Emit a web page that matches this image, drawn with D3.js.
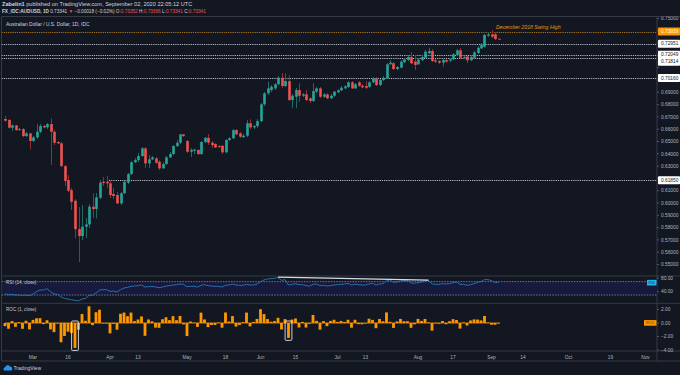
<!DOCTYPE html>
<html><head><meta charset="utf-8">
<script src="https://cdn.jsdelivr.net/npm/d3@7"></script>
<style>html,body{margin:0;padding:0;background:#131722;}svg{display:block;}</style>
</head><body>
<svg id="c" width="680" height="375"></svg>
<script>
// ---------- data ----------
const firstDay = "2020-02-19";
const lastAxisDay = "2020-11-07";
const open = [0.6683,0.6675,0.6612,0.6631,0.6593,0.6601,0.6544,0.6566,0.6504,0.6534,
0.6579,0.6626,0.6615,0.6642,0.6579,0.6496,0.6485,0.6300,0.6187,0.6105,
0.6018,0.5788,0.5731,0.5807,0.5826,0.5970,0.5951,0.6043,0.6173,0.6173,
0.6160,0.6073,0.6065,0.5997,0.6079,0.6165,0.6235,0.6331,0.6349,0.6382,
0.6444,0.6322,0.6355,0.6363,0.6335,0.6282,0.6317,0.6371,0.6398,0.6463,
0.6490,0.6558,0.6504,0.6417,0.6425,0.6431,0.6398,0.6496,0.6530,0.6490,
0.6479,0.6463,0.6465,0.6412,0.6512,0.6526,0.6593,0.6566,0.6536,0.6547,
0.6648,0.6615,0.6626,0.6666,0.6802,0.6892,0.6918,0.6932,0.6965,0.7018,
0.6951,0.6991,0.6837,0.6864,0.6918,0.6872,0.6883,0.6851,0.6829,0.6905,
0.6932,0.6864,0.6883,0.6851,0.6872,0.6900,0.6916,0.6932,0.6943,0.6981,
0.6932,0.6981,0.6953,0.6951,0.6945,0.6981,0.7013,0.6959,0.7000,0.7013,
0.7128,0.7136,0.7089,0.7100,0.7144,0.7162,0.7187,0.7149,0.7128,0.7162,
0.7181,0.7217,0.7236,0.7160,0.7154,0.7141,0.7162,0.7157,0.7168,0.7203,
0.7241,0.7181,0.7192,0.7160,0.7181,0.7219,0.7257,0.7270,0.7360,0.7371,
0.7371,0.73352];
const high = [0.6707,0.6683,0.6638,0.6634,0.6609,0.6609,0.6577,0.6569,0.6544,0.6642,
0.6642,0.6634,0.6650,0.6688,0.6593,0.6504,0.6496,0.6309,0.6227,0.6122,
0.6032,0.5967,0.5983,0.5878,0.5991,0.6079,0.6081,0.6187,0.6211,0.6219,
0.6179,0.6122,0.6089,0.6089,0.6179,0.6244,0.6341,0.6365,0.6406,0.6455,
0.6455,0.6390,0.6382,0.6374,0.6349,0.6333,0.6382,0.6414,0.6471,0.6512,
0.6561,0.6561,0.6512,0.6447,0.6439,0.6439,0.6504,0.6536,0.6561,0.6504,
0.6487,0.6471,0.6471,0.6520,0.6536,0.6601,0.6601,0.6577,0.6561,0.6675,
0.6680,0.6634,0.6683,0.6813,0.6902,0.6986,0.6959,0.6975,0.7032,0.7057,
0.7054,0.7040,0.6886,0.6935,0.6973,0.6894,0.6918,0.6861,0.6973,0.6943,
0.6943,0.6894,0.6894,0.6886,0.6910,0.6926,0.6951,0.6959,0.6991,0.6991,
0.6975,0.6991,0.6967,0.6991,0.6991,0.7024,0.7024,0.7008,0.7032,0.7138,
0.7162,0.7146,0.7114,0.7162,0.7179,0.7195,0.7227,0.7203,0.7179,0.7203,
0.7244,0.7260,0.7252,0.7171,0.7162,0.7171,0.7171,0.7179,0.7219,0.7252,
0.7260,0.7195,0.7203,0.7195,0.7236,0.7276,0.7301,0.7374,0.7390,0.7406,
0.7382,0.73366];
const low = [0.6661,0.6605,0.6585,0.6585,0.6585,0.6536,0.6536,0.6436,0.6496,0.6520,
0.6569,0.6609,0.6601,0.6309,0.6471,0.6479,0.6292,0.6138,0.6089,0.5943,
0.5713,0.5520,0.5699,0.5715,0.5796,0.5878,0.5875,0.6032,0.6138,0.6122,
0.6040,0.6032,0.5991,0.5983,0.6073,0.6154,0.6227,0.6325,0.6333,0.6374,
0.6284,0.6284,0.6349,0.6317,0.6268,0.6276,0.6309,0.6365,0.6390,0.6455,
0.6479,0.6536,0.6406,0.6374,0.6398,0.6390,0.6390,0.6487,0.6471,0.6447,
0.6447,0.6447,0.6398,0.6406,0.6504,0.6520,0.6552,0.6528,0.6528,0.6536,
0.6601,0.6601,0.6609,0.6658,0.6788,0.6878,0.6902,0.6918,0.6959,0.6935,
0.6943,0.6829,0.6772,0.6772,0.6823,0.6861,0.6829,0.6813,0.6821,0.6894,
0.6853,0.6853,0.6845,0.6845,0.6861,0.6894,0.6910,0.6926,0.6935,0.6926,
0.6926,0.6943,0.6935,0.6926,0.6935,0.6975,0.6951,0.6951,0.6991,0.7008,
0.7122,0.7081,0.7081,0.7097,0.7138,0.7154,0.7130,0.7081,0.7122,0.7154,
0.7179,0.7211,0.7146,0.7138,0.7130,0.7108,0.7138,0.7146,0.7162,0.7195,
0.7171,0.7171,0.7138,0.7154,0.7179,0.7211,0.7252,0.7262,0.7349,0.7341,
0.7325,0.73341];
const close = [0.6669,0.6612,0.6631,0.6593,0.6601,0.6544,0.6566,0.6504,0.6534,0.6579,
0.6626,0.6615,0.6642,0.6579,0.6490,0.6485,0.6300,0.6179,0.6100,0.6010,
0.5788,0.5731,0.5807,0.5826,0.5970,0.5951,0.6046,0.6165,0.6162,0.6160,
0.6065,0.6057,0.5997,0.6079,0.6173,0.6235,0.6331,0.6349,0.6382,0.6444,
0.6322,0.6355,0.6371,0.6327,0.6282,0.6317,0.6371,0.6398,0.6463,0.6490,
0.6558,0.6544,0.6417,0.6431,0.6435,0.6398,0.6496,0.6530,0.6490,0.6471,
0.6452,0.6457,0.6412,0.6512,0.6526,0.6593,0.6558,0.6539,0.6547,0.6648,
0.6615,0.6626,0.6666,0.6802,0.6892,0.6932,0.6945,0.6965,0.7018,0.6951,
0.6991,0.6837,0.6872,0.6918,0.6872,0.6883,0.6837,0.6829,0.6910,0.6932,
0.6864,0.6883,0.6851,0.6872,0.6905,0.6916,0.6937,0.6948,0.6981,0.6932,
0.6965,0.6953,0.6940,0.6937,0.6981,0.7013,0.6959,0.7000,0.7018,0.7128,
0.7141,0.7089,0.7106,0.7149,0.7168,0.7187,0.7136,0.7122,0.7165,0.7187,
0.7230,0.7236,0.7154,0.7149,0.7141,0.7162,0.7149,0.7168,0.7209,0.7241,
0.7181,0.7187,0.7160,0.7187,0.7225,0.7262,0.7290,0.7366,0.7371,0.7352,
0.7333,0.73341];
const prevClose = 0.6700;
const rsi = [34,31,32,30,30,29,30,28,33,40,
45,45,49,40,33,32,24,20,18,16,
14,13,18,20,29,30,36,45,46,46,
41,42,39,46,51,53,56,57,58,60,
54,55,56,54,52,54,57,58,60,61,
63,62,55,56,56,54,59,61,58,57,
56,56,54,59,60,63,60,59,59,62,
60,60,63,70,75,78,79,80,82,74,
76,60,62,64,61,61,58,57,62,63,
58,59,57,58,60,61,62,63,65,60,
63,61,60,60,63,65,60,63,64,73,
75,68,69,72,73,74,66,65,67,69,
72,74,63,62,62,64,63,64,67,69,
62,62,59,61,64,68,70,76,76,73,
68,67];
const rsiTrendStart = {i: 78, v: 83.5};
const rsiTrendEnd = {i: 121, v: 74.5};
const highlightBars = [20, 81];
const levelValues = [0.73939, 0.72951, 0.72049, 0.71814, 0.70160, 0.61850];
const levelLabels = ["0.73939","0.72951","0.72049","0.71814","0.70160","0.61850"];
const levelColors = ["#ff9800","#fff","#fff","#fff","#fff","#fff"];
const levelStartDay = ["2020-02-19","2020-02-19","2020-02-19","2020-02-19","2020-02-19","2020-04-01"];
const priceTicks = [0.55,0.56,0.57,0.58,0.59,0.60,0.61,0.62,0.63,0.64,0.65,0.66,0.67,0.68,0.69,0.70,0.71,0.72,0.73,0.74,0.75];
const rsiTicks = [80, 40];
const rocTicks = [2, 0, -2, -4];
const rocTickLabels = ["2.00","0.00","\u22122.00","\u22124.00"];
const dateTickDays = ["2020-03-02","2020-03-16","2020-04-01","2020-04-13","2020-05-01","2020-05-18","2020-06-01","2020-06-15","2020-07-01","2020-07-13","2020-08-03","2020-08-17","2020-09-01","2020-09-14","2020-10-01","2020-10-19","2020-11-02"];
const dateTickLabels = ["Mar","16","Apr","13","May","18","Jun","15","Jul","13","Aug","17","Sep","14","Oct","19","Nov"];

// ---------- layout ----------
const W = 680, H = 375;
const paneL = 1.5, paneR = 657;
const mainTop = 16.5, mainBot = 276, rsiTop = 276, rsiBot = 303.3, rocTop = 303.3, rocBot = 351, axisBot = 361;
const FONT = "'Liberation Sans', Arial, sans-serif";
const TXT = "#b2b5be";
const UP = "#26a69a", DOWN = "#ef5350", UPW = "#1f6b64", DOWNW = "#8c3036";

const days = d3.utcDay.range(new Date(firstDay), new Date(lastAxisDay)).filter(d => d.getUTCDay() % 6 !== 0);
const dayIndex = s => days.findIndex(d => +d === +new Date(s));

const x = d3.scaleLinear().domain([0, 140]).range([5, 495]);
const y = d3.scaleLinear().domain([0.55, 0.75]).range([264.5, 18.5]);
const yr = d3.scaleLinear().domain([0, 100]).range([305.1, 271.6]);
const yc = d3.scaleLinear().domain([-4, 2]).range([350, 309.5]);

const svg = d3.select("#c");
svg.append("rect").attr("width", W).attr("height", H).attr("fill", "#131722");

const defs = svg.append("defs");
defs.append("clipPath").attr("id","cm").append("rect").attr("x",paneL).attr("y",mainTop).attr("width",paneR-paneL).attr("height",mainBot-mainTop);
defs.append("clipPath").attr("id","cr").append("rect").attr("x",paneL).attr("y",rsiTop).attr("width",paneR-paneL).attr("height",rsiBot-rsiTop);
defs.append("clipPath").attr("id","cc").append("rect").attr("x",paneL).attr("y",rocTop).attr("width",paneR-paneL).attr("height",rocBot-rocTop);
defs.append("clipPath").attr("id","ca").append("rect").attr("x",paneR).attr("y",mainTop).attr("width",W-paneR).attr("height",mainBot-mainTop-1);

// ---------- header ----------
const hdr = svg.append("g").attr("font-family", FONT);
hdr.append("text").attr("x", 2).attr("y", 6).attr("font-size", 5.6).attr("fill", "#d1d4dc")
  .html('<tspan font-weight="bold">Zabelin1</tspan> published on TradingView.com, September 02, 2020 22:05:12 UTC');
const l2 = hdr.append("text").attr("x", 2).attr("y", 13.2).attr("font-size", 4.7).attr("fill", "#d1d4dc");
const parts = [["FX_IDC:AUDUSD, 1D ", "#d1d4dc", "bold"], ["0.73341 ", "#d1d4dc"], ["\u25BC ", DOWN], ["\u22120.00018 (\u22120.02%) ", "#d1d4dc"],
  ["O:", "#d1d4dc"], ["0.73352 ", DOWN], ["H:", "#d1d4dc"], ["0.73366 ", DOWN], ["L:", "#d1d4dc"], ["0.73341 ", DOWN], ["C:", "#d1d4dc"], ["0.73341", DOWN]];
parts.forEach(p => l2.append("tspan").attr("fill", p[1]).attr("font-weight", p[2] || null).text(p[0]));

// ---------- frame ----------
const frame = svg.append("g").attr("stroke", "#363a45").attr("stroke-width", 1);
[mainTop, rsiTop, rocTop, rocBot, axisBot].forEach(v => frame.append("line").attr("x1", paneL).attr("x2", W).attr("y1", v).attr("y2", v));
frame.append("line").attr("x1", paneR).attr("x2", paneR).attr("y1", mainTop).attr("y2", axisBot);
frame.append("line").attr("x1", paneL).attr("x2", paneL).attr("y1", mainTop).attr("y2", axisBot);

// ---------- main pane ----------
const main = svg.append("g").attr("clip-path", "url(#cm)");
svg.append("text").attr("x", 6).attr("y", 26).attr("font-family", FONT).attr("font-size", 4.9).attr("fill", "#d1d4dc")
  .text("Australian Dollar / U.S. Dollar, 1D, IDC");

levelValues.forEach((v, k) => {
  const yy = Math.round(y(v)) + 0.5;
  main.append("line").attr("x1", k === 5 ? x(dayIndex(levelStartDay[k])) - 1 : paneL).attr("x2", paneR).attr("y1", yy).attr("y2", yy)
    .attr("stroke", k === 0 ? "#a8741c" : "#b8bcc6").attr("stroke-width", 1).attr("stroke-dasharray", "1.2,1");
});
main.append("text").attr("x", 496).attr("y", 29.3).attr("font-family", FONT).attr("font-size", 5.2).attr("font-style", "italic")
  .attr("fill", "#e8940f").text("December 2018 Swing High");

const idx = d3.range(close.length);
const cg = main.append("g");
cg.selectAll("line.w").data(idx).join("line")
  .attr("x1", i => Math.round(x(i)) + 0.5).attr("x2", i => Math.round(x(i)) + 0.5)
  .attr("y1", i => y(high[i])).attr("y2", i => y(low[i]))
  .attr("stroke", i => close[i] >= open[i] ? UPW : DOWNW).attr("stroke-width", 1);
cg.selectAll("rect.b").data(idx).join("rect")
  .attr("x", i => Math.round(x(i)) + 0.5 - 1.3).attr("width", 2.6)
  .attr("y", i => Math.min(y(open[i]), y(close[i])))
  .attr("height", i => Math.max(0.9, Math.abs(y(open[i]) - y(close[i]))))
  .attr("fill", i => close[i] >= open[i] ? UP : DOWN);

// level label positions (push down on collision)
let prevY = -100;
const boxY = levelValues.map(v => { let cy = y(v); if (cy < prevY + 7) cy = prevY + 7; prevY = cy; return cy; });

// price axis
const ax = svg.append("g").attr("font-family", FONT).attr("font-size", 4.8).attr("clip-path", "url(#ca)");
priceTicks.forEach(t => {
  const yy = y(t);
  ax.append("line").attr("x1", paneR).attr("x2", paneR + 2).attr("y1", yy).attr("y2", yy).attr("stroke", "#787b86").attr("stroke-width", 0.6);
  if (boxY.some(b => Math.abs(b - yy) < 7.5)) return;
  ax.append("text").attr("x", 661).attr("y", yy + 1.7).attr("fill", TXT).text(t.toFixed(5));
});
levelValues.forEach((v, k) => {
  const cy = boxY[k];
  const g = svg.append("g").attr("font-family", FONT).attr("font-size", 4.8);
  g.append("rect").attr("x", 658).attr("y", cy - 4).attr("width", 22).attr("height", 8).attr("rx", 0.8).attr("fill", levelColors[k]);
  g.append("text").attr("x", 661).attr("y", cy + 1.7).attr("fill", k === 0 ? "#fff" : "#131722").text(levelLabels[k]);
});

// ---------- RSI pane ----------
const rp = svg.append("g").attr("clip-path", "url(#cr)");
rp.append("rect").attr("x", paneL).attr("width", paneR - paneL).attr("y", yr(70)).attr("height", yr(30) - yr(70)).attr("fill", "#171a3d");
[70, 30].forEach(v => rp.append("line").attr("x1", paneL).attr("x2", paneR).attr("y1", yr(v)).attr("y2", yr(v))
  .attr("stroke", "#8a8d96").attr("stroke-width", 0.8).attr("stroke-dasharray", "1.5,1.2"));
rp.append("path").datum(idx).attr("fill", "none").attr("stroke", "#2779b9").attr("stroke-width", 0.9)
  .attr("d", d3.line().x(i => x(i)).y(i => yr(rsi[i])));
rp.append("line").attr("x1", x(rsiTrendStart.i)).attr("y1", yr(rsiTrendStart.v)).attr("x2", x(rsiTrendEnd.i)).attr("y2", yr(rsiTrendEnd.v))
  .attr("stroke", "#d8dae0").attr("stroke-width", 1.3);
svg.append("text").attr("x", 6).attr("y", 283.8).attr("font-family", FONT).attr("font-size", 4.6).attr("fill", "#c3c6ce").text("RSI (14, close)");
const lastR = rsi[rsi.length - 1];
svg.append("rect").attr("x", 647).attr("y", yr(lastR) - 2.8).attr("width", 9.5).attr("height", 5.6).attr("fill", "#1fb6e8");
svg.append("text").attr("x", 651.75).attr("y", yr(lastR) + 1.4).attr("text-anchor", "middle").attr("font-family", FONT).attr("font-size", 3.8).attr("fill", "#0b3550").text("RSI");
rsiTicks.forEach(t => {
  svg.append("line").attr("x1", paneR).attr("x2", paneR + 2).attr("y1", yr(t)).attr("y2", yr(t)).attr("stroke", "#787b86").attr("stroke-width", 0.6);
  svg.append("text").attr("x", 661).attr("y", yr(t) + 1.7).attr("font-family", FONT).attr("font-size", 4.8).attr("fill", TXT).text(t.toFixed(2));
});

// ---------- ROC pane ----------
const roc = close.map((c, i) => (c / (i ? close[i - 1] : prevClose) - 1) * 100);
const cp = svg.append("g").attr("clip-path", "url(#cc)");
cp.append("line").attr("x1", x(0)).attr("x2", x(close.length - 1) + 1.5).attr("y1", yc(0)).attr("y2", yc(0)).attr("stroke", "#ff9800").attr("stroke-width", 0.8);
cp.selectAll("rect.r").data(idx).join("rect")
  .attr("x", i => x(i) - 1.4).attr("width", 2.8)
  .attr("y", i => Math.min(yc(0), yc(roc[i]))).attr("height", i => Math.max(0.5, Math.abs(yc(roc[i]) - yc(0))))
  .attr("fill", "#ff9800");
highlightBars.forEach(i => {
  const y0 = Math.min(yc(0), yc(roc[i])) - 2, y1 = Math.max(yc(0), yc(roc[i])) + 2.5;
  cp.append("rect").attr("x", x(i) - 3.4).attr("y", y0).attr("width", 6.8).attr("height", y1 - y0).attr("rx", 1)
    .attr("fill", "none").attr("stroke", "#e0e3eb").attr("stroke-width", 0.9);
});
svg.append("text").attr("x", 6).attr("y", 311.3).attr("font-family", FONT).attr("font-size", 4.6).attr("fill", "#c3c6ce").text("ROC (1, close)");
const lastC = roc[roc.length - 1];
svg.append("rect").attr("x", 644).attr("y", yc(lastC) - 2.8).attr("width", 12.5).attr("height", 5.6).attr("fill", "#ff9800");
svg.append("text").attr("x", 650.25).attr("y", yc(lastC) + 1.4).attr("text-anchor", "middle").attr("font-family", FONT).attr("font-size", 3.8).attr("fill", "#5a3300").text("ROC");
rocTicks.forEach((t, k) => {
  svg.append("line").attr("x1", paneR).attr("x2", paneR + 2).attr("y1", yc(t)).attr("y2", yc(t)).attr("stroke", "#787b86").attr("stroke-width", 0.6);
  svg.append("text").attr("x", 661).attr("y", yc(t) + 1.7).attr("font-family", FONT).attr("font-size", 4.8).attr("fill", TXT).text(rocTickLabels[k]);
});

// ---------- time axis ----------
dateTickDays.forEach((d, k) => {
  svg.append("text").attr("x", x(dayIndex(d))).attr("y", 358.5).attr("text-anchor", "middle")
    .attr("font-family", FONT).attr("font-size", 4.8).attr("fill", TXT).text(dateTickLabels[k]);
});

// ---------- TradingView logo ----------
const logo = svg.append("g");
logo.append("path").attr("d", "M4,370.5 a2,2 0 0 1 1.2,-3.3 a2.6,2.6 0 0 1 4.8,-0.6 a2,2 0 0 1 2.2,2.4 a1.6,1.6 0 0 1 -0.6,1.5 z").attr("fill", "#2196f3");
logo.append("text").attr("x", 13.5).attr("y", 370.3).attr("font-family", FONT).attr("font-size", 5).attr("fill", "#d1d4dc").text("TradingView");
</script>
</body></html>
